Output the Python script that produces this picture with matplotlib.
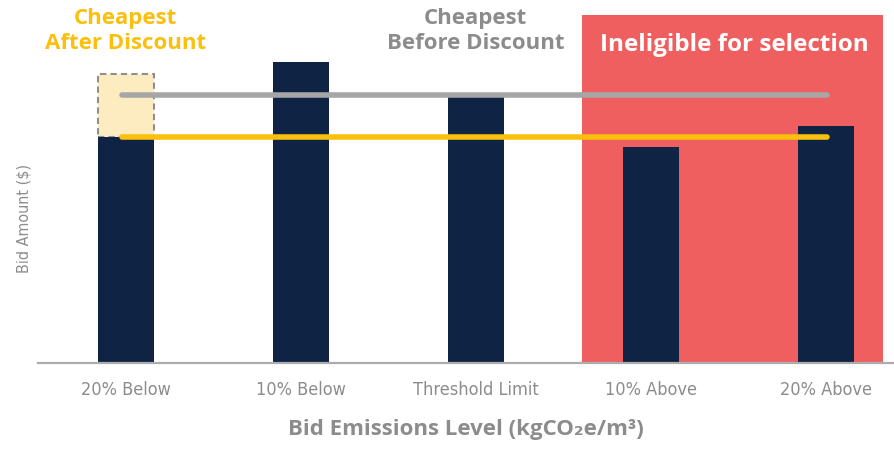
import matplotlib
matplotlib.use("Agg")
import matplotlib.pyplot as plt
from matplotlib import font_manager
from matplotlib.patches import Rectangle
import numpy as np

# Bid levels and amounts (arbitrary $ units, no tick values shown)
levels = ["20% Below", "10% Below", "Threshold Limit", "10% Above", "20% Above"]
bids = [226, 301, 268, 216, 237]
bid_before_discount = 289          # original bid of the 20% Below entry
cheapest_before = 268              # cheapest eligible bid before discount
cheapest_after = 226               # cheapest bid after discount
ineligible_from = 2.61             # left edge of the ineligible band (category units)

NAVY = "#0F2345"
RED = "#F05F5F"
YELLOW = "#FBBF0E"
GREY_LINE = "#A6A6A6"
GREY_TEXT = "#8C8C8C"
PALE = "#FDECC0"

plt.rcParams["font.family"] = ["Open Sans", "DejaVu Sans"]
narrow = font_manager.FontProperties(family="DejaVu Sans", stretch="condensed", size=13)

fig = plt.figure(figsize=(8.94, 4.51), dpi=100)
ax = fig.add_axes([38 / 894, 88 / 451, 1 - 38 / 894, 363 / 451])

x = np.arange(len(levels))
ax.set_xlim(-0.5, 4.39)
ax.set_ylim(0, 363)

# ineligible region
ax.add_patch(Rectangle((ineligible_from, 0), 4.33 - ineligible_from, 348,
                       facecolor=RED, edgecolor="none", zorder=0))
ax.text(3.48, 318, "Ineligible for selection", color="white", fontsize=17.5,
        fontweight="bold", ha="center", va="center")

# pre-discount bid box
ax.add_patch(Rectangle((-0.16, bids[0]), 0.32, bid_before_discount - bids[0],
                       facecolor=PALE, edgecolor="#8F8F8F", linestyle=(0, (3, 2)),
                       linewidth=1.5, zorder=1))

ax.bar(x, bids, width=0.32, color=NAVY, zorder=2)

ax.plot([-0.02, 4.01], [cheapest_before] * 2, color=GREY_LINE, linewidth=4,
        solid_capstyle="round", zorder=3)
ax.plot([-0.02, 4.01], [cheapest_after] * 2, color=YELLOW, linewidth=4,
        solid_capstyle="round", zorder=3)

ax.text(0, 332, "Cheapest\nAfter Discount", color=YELLOW, fontsize=16,
        fontweight="bold", ha="center", va="center", linespacing=1.2)
ax.text(2, 332, "Cheapest\nBefore Discount", color=GREY_TEXT, fontsize=16,
        fontweight="bold", ha="center", va="center", linespacing=1.2)

for s in ["top", "right", "left"]:
    ax.spines[s].set_visible(False)
ax.spines["bottom"].set_color("#ADADAD")
ax.spines["bottom"].set_linewidth(1.6)
ax.set_yticks([])
ax.set_xticks(x)
ax.set_xticklabels(levels, color=GREY_TEXT, fontproperties=narrow)
ax.tick_params(axis="x", length=0, pad=13)

ax.set_ylabel("Bid Amount ($)", color=GREY_TEXT,
              fontproperties=font_manager.FontProperties(family="DejaVu Sans",
                                                         stretch="condensed", size=11.5))
ax.yaxis.set_label_coords(-0.008, 0.397)
ax.set_xlabel("Bid Emissions Level (kgCO\u2082e/m\u00b3)", color=GREY_TEXT,
              fontsize=16, fontweight="bold", labelpad=14)

fig.savefig("out.png", dpi=100)
